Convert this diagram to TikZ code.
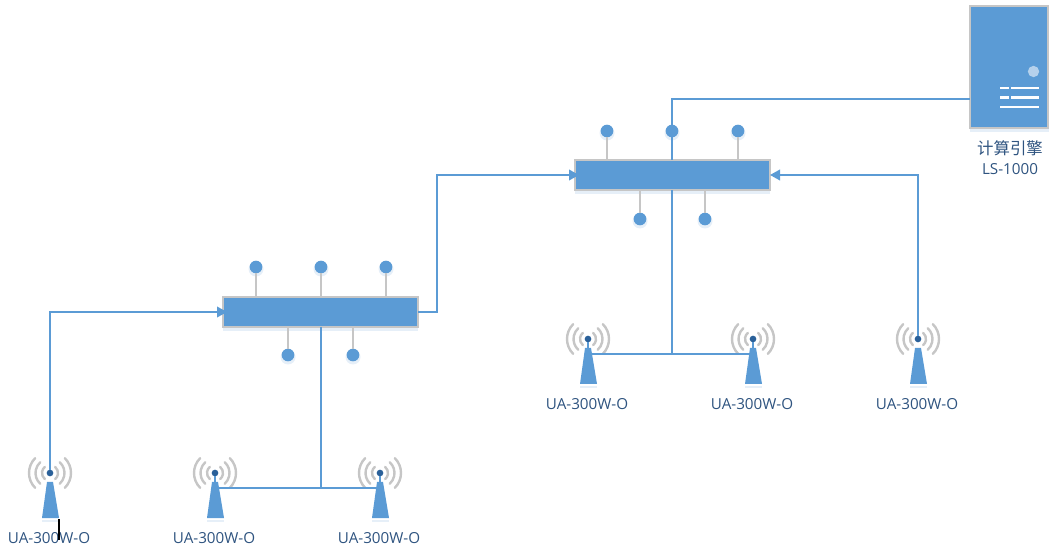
\documentclass[tikz,border=0pt]{standalone}
\usepackage{fontspec}
\setmainfont{Open Sans}
\newfontfamily\cjkfont{Noto Sans CJK SC}
\usetikzlibrary{arrows.meta,calc}
\definecolor{bl}{HTML}{5B9BD5}
\definecolor{gr}{HTML}{C6C6C6}
\definecolor{tx}{HTML}{2F5480}
\definecolor{dk}{HTML}{2A6099}
\definecolor{halo}{HTML}{E6EFF8}
\tikzset{
  hubbox/.style={draw=gr,line width=1.3pt,fill=bl,minimum width=146.25pt,minimum height=22.5pt,inner sep=0pt,outer sep=0pt},
  srvbox/.style={draw=gr,line width=1.3pt,fill=bl,minimum width=58pt,minimum height=91.5pt,inner sep=0pt,outer sep=0pt},
  pindot/.style={circle,fill=bl,minimum size=9.5pt,inner sep=0pt,outer sep=0pt},
  pinline/.style={draw=gr,line width=1.1pt},
  link/.style={draw=bl,line width=1.15pt},
  linkarrow/.style={link,-{Triangle[length=7.5pt,width=8pt]}},
  antdot/.style={circle,fill=dk,minimum size=5pt,inner sep=0pt,outer sep=0pt},
  wave/.style={draw=gr,line width=1.8pt,line cap=round},
  lbl/.style={text=tx,font=\fontsize{11.4pt}{13pt}\selectfont,inner sep=0pt},
}
\newcommand{\antenna}[3]{%
  \fill[halo] (#2-8,#3+47) rectangle (#2+9,#3+49);
  \fill[bl] (#2-3,#3+9) -- (#2+3,#3+9) -- (#2+9,#3+45) -- (#2-8,#3+45) -- cycle;
  \foreach \r/\a in {8/50,14.5/48,21/45}{
    \draw[wave] ($(#2,#3)+(-\a:\r)$) arc[start angle=-\a,end angle=\a,radius=\r];
    \draw[wave] ($(#2,#3)+(180-\a:\r)$) arc[start angle=180-\a,end angle=180+\a,radius=\r];
  }
  \node[antdot] (#1) at (#2,#3) {};
  \node[lbl] (#1l) at (#2-1,#3+65) {UA-300W-O};
}
\newcommand{\pin}[4]{%
  \fill[halo] (#2,#3+2) circle[radius=7.5];
  \node[pindot] (#1) at (#2,#3) {};
  \draw[pinline] (#1) -- (#2,#4);
}
\begin{document}
\begin{tikzpicture}[x=0.75pt,y=-0.75pt]
\useasboundingbox (0,0) rectangle (1049,548);
% soft halos under the boxes
\fill[halo] (223,300) rectangle (418,331);
\fill[halo] (575,163) rectangle (770,194);
\fill[halo] (970,10) rectangle (1049,132);
% pins
\pin{a1}{607}{131}{160}
\pin{a2}{672}{131}{160}
\pin{a3}{738}{131}{160}
\pin{a4}{640}{219}{190}
\pin{a5}{705}{219}{190}
\pin{b1}{256}{267}{297}
\pin{b2}{321}{267}{297}
\pin{b3}{386}{267}{297}
\pin{b4}{288}{355}{327}
\pin{b5}{353}{355}{327}
% antennas
\antenna{e1}{50}{473}
\antenna{e2}{215}{473}
\antenna{e3}{380}{473}
\antenna{e4}{588}{339}
\antenna{e5}{753}{339}
\antenna{e6}{918}{339}
% hubs
\node[hubbox] (hubb) at (320.5,312) {};
\node[hubbox] (huba) at (672.5,175) {};
% server
\node[srvbox] (srv) at (1009,67) {};
\node[circle,fill=white,fill opacity=.55,minimum size=8.5pt,inner sep=0pt] (srvled) at (1033.5,71.5) {};
\draw[white,line width=2pt] (1000,88) -- (1009,88) (1011,88) -- (1039,88)
  (1000,97.5) -- (1009,97.5) (1011,97.5) -- (1039,97.5) (1000,107) -- (1039,107);
\node[text=tx,font=\cjkfont\fontsize{12.3pt}{14pt}\selectfont,inner sep=0pt] (srvt) at (1010,148) {计算引擎};
\node[lbl] (srvm) at (1010,169.5) {LS-1000};
% connectors
\coordinate (t1) at (672,99);
\coordinate (j1) at (672,354);
\coordinate (j2) at (321,488);
\draw[link] (a2 |- huba.north) -- (t1) -- (srv.west |- t1);
\draw[link] (a2 |- huba.south) -- (j1);
\draw[link] (e4) |- (j1) -| (e5);
\draw[linkarrow] (e6) |- (huba.east);
\draw[linkarrow,shorten >=-3pt] (hubb.east) -- (437,312) |- (huba.west);
\draw[linkarrow,shorten >=-3pt] (e1) |- (hubb.west);
\draw[link] (b2 |- hubb.south) -- (j2);
\draw[link] (e2) |- (j2) -| (e3);
\draw[black,line width=1.1pt] (59,519) -- (59,540);
\end{tikzpicture}
\end{document}
